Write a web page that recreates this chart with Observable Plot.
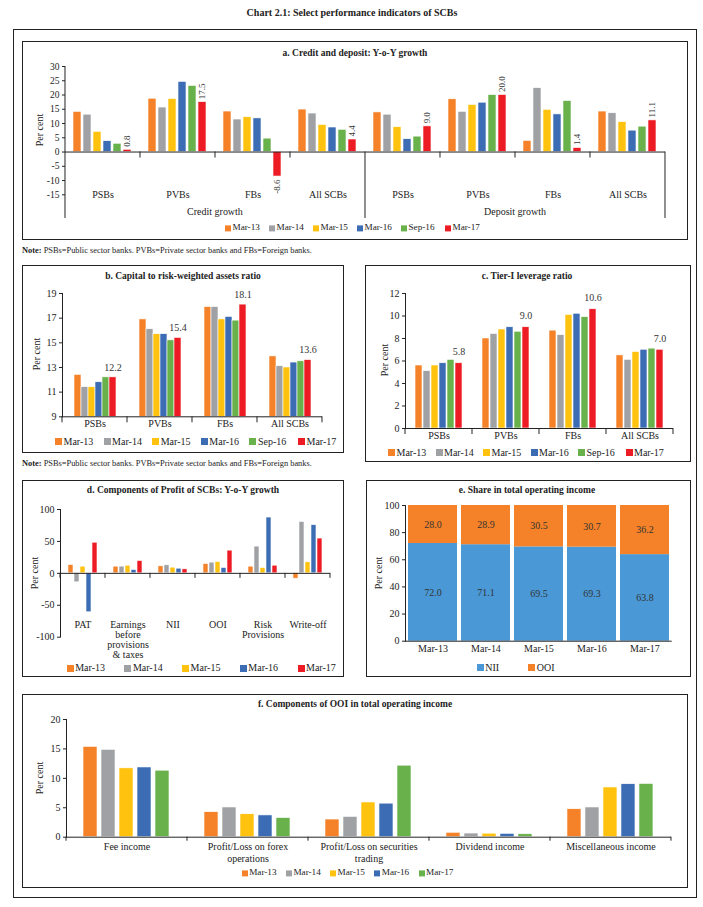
<!DOCTYPE html>
<html><head><meta charset="utf-8">
<script src="https://cdn.jsdelivr.net/npm/d3@7"></script>
<script src="https://cdn.jsdelivr.net/npm/@observablehq/plot@0.6"></script>
<style>
body{margin:0;background:#fff;}
#page{position:relative;width:703px;height:907px;font-family:"Liberation Serif","Times New Roman",serif;color:#222;overflow:hidden;background:#fff}
.box{position:absolute;border:1px solid #222;box-sizing:border-box}
.t{position:absolute;white-space:nowrap;transform:translate(-50%,-50%);line-height:1}
.lg{position:absolute;transform:translateY(-50%);display:flex;align-items:center;white-space:nowrap;line-height:1}
.note{position:absolute;white-space:nowrap;line-height:1;transform:translateY(-50%)}
svg{position:absolute;overflow:visible}
</style></head><body><div id="page"></div><script>
// ---------------- DATA ----------------
const bankGroups = ["PSBs", "PVBs", "FBs", "All SCBs"];
const periodsA = ["Mar-13", "Mar-14", "Mar-15", "Mar-16", "Sep-16", "Mar-17"];
const creditGrowth = [
  [14.1, 13.1, 7.1, 3.8, 2.9, 0.8],
  [18.7, 15.6, 18.6, 24.6, 23.2, 17.5],
  [14.2, 11.4, 12.2, 11.8, 4.7, -8.6],
  [14.9, 13.5, 9.5, 8.6, 7.8, 4.4]
];
const depositGrowth = [
  [13.9, 13.1, 8.7, 4.5, 5.4, 9.0],
  [18.5, 14.1, 16.5, 17.3, 20.0, 20.0],
  [3.9, 22.4, 14.8, 13.2, 17.9, 1.4],
  [14.2, 13.6, 10.5, 7.5, 8.9, 11.1]
];
const crar = [
  [12.4, 11.4, 11.4, 11.8, 12.2, 12.2],
  [16.9, 16.1, 15.7, 15.7, 15.2, 15.4],
  [17.9, 17.9, 16.9, 17.1, 16.8, 18.1],
  [13.9, 13.1, 13.0, 13.4, 13.5, 13.6]
];
const leverage = [
  [5.6, 5.1, 5.6, 5.8, 6.1, 5.8],
  [8.0, 8.4, 8.8, 9.0, 8.6, 9.0],
  [8.7, 8.3, 10.1, 10.2, 9.9, 10.6],
  [6.5, 6.1, 6.8, 7.0, 7.1, 7.0]
];
const periodsD = ["Mar-13", "Mar-14", "Mar-15", "Mar-16", "Mar-17"];
const profitItems = ["PAT", "Earnings\nbefore\nprovisions\n& taxes", "NII", "OOI", "Risk\nProvisions", "Write-off"];
const profitGrowth = [
  [13.1, -14.1, 10.5, -61.0, 48.0],
  [10.5, 10.5, 12.0, 5.2, 19.4],
  [11.0, 12.6, 8.9, 7.3, 6.3],
  [14.7, 16.8, 17.8, 8.4, 35.6],
  [10.5, 41.9, 8.4, 87.4, 12.0],
  [-8.4, 80.6, 17.3, 75.4, 54.5]
];
const shareYears = ["Mar-13", "Mar-14", "Mar-15", "Mar-16", "Mar-17"];
const shareTypes = ["NII", "OOI"];
const niiShare = [72.0, 71.1, 69.5, 69.3, 63.8];
const ooiShare = [28.0, 28.9, 30.5, 30.7, 36.2];
const ooiItems = ["Fee income", "Profit/Loss on forex\noperations", "Profit/Loss on securities\ntrading", "Dividend income", "Miscellaneous income"];
const ooiComponents = [
  [15.35, 14.85, 11.7, 11.85, 11.3],
  [4.25, 5.05, 3.9, 3.7, 3.25],
  [3.0, 3.45, 5.9, 5.7, 12.15],
  [0.75, 0.62, 0.6, 0.57, 0.5],
  [4.75, 5.05, 8.45, 9.0, 9.05]
];

// ---------------- STYLE ----------------
const FONT = '"Liberation Serif","Times New Roman",serif';
const INK = "#222";
const C = {orange: "#F58228", gray: "#A0A1A4", yellow: "#FFC20E", blue: "#3B6CB4", green: "#69B14B", red: "#ED1C24", sky: "#4A99D6"};
const colorsA = [C.orange, C.gray, C.yellow, C.blue, C.green, C.red];
const colorsD = [C.orange, C.gray, C.yellow, C.blue, C.red];
const colorsF = [C.orange, C.gray, C.yellow, C.blue, C.green];
const colorsE = [C.sky, C.orange];

const page = document.getElementById("page");
function box(l, t, r, b) {
  const d = document.createElement("div"); d.className = "box";
  Object.assign(d.style, {left: l + "px", top: t + "px", width: (r - l) + "px", height: (b - t) + "px"});
  page.appendChild(d);
}
function label(txt, cx, cy, size, bold = false, rotate = 0) {
  const d = document.createElement("div"); d.className = "t"; d.textContent = txt;
  d.style.left = cx + "px"; d.style.top = cy + "px"; d.style.fontSize = size + "px";
  if (bold) d.style.fontWeight = "bold";
  if (rotate) d.style.transform = `translate(-50%,-50%) rotate(${rotate}deg)`;
  page.appendChild(d);
}
function note(cy) {
  const d = document.createElement("div"); d.className = "note";
  d.innerHTML = "<b>Note:</b> PSBs=Public sector banks. PVBs=Private sector banks and FBs=Foreign banks.";
  d.style.left = "22px"; d.style.top = cy + "px"; d.style.fontSize = "8.4px";
  page.appendChild(d);
}
function legend(names, colors, x0, cy, step, size, sw) {
  names.forEach((n, i) => {
    const it = document.createElement("div"); it.className = "lg";
    it.style.left = (x0 + i * step) + "px"; it.style.top = cy + "px"; it.style.fontSize = size + "px";
    it.innerHTML = `<span style="display:inline-block;width:${sw}px;height:${sw}px;background:${colors[i]};margin-right:1.5px"></span>${n}`;
    page.appendChild(it);
  });
}
function chart(frame, opts, fontSize = 10) {
  const [fL, fT, fR, fB] = frame;
  const pad = {l: 50, t: 16, r: 14, b: 44};
  const svg = Plot.plot({
    width: fR - fL + pad.l + pad.r,
    height: fB - fT + pad.t + pad.b,
    marginLeft: pad.l, marginRight: pad.r, marginTop: pad.t, marginBottom: pad.b,
    style: {fontFamily: FONT, fontSize: fontSize + "px", color: INK, background: "transparent", overflow: "visible"},
    ...opts
  });
  svg.style.position = "absolute";
  svg.style.left = (fL - pad.l) + "px"; svg.style.top = (fT - pad.t) + "px";
  svg._T = fT - pad.t; svg._L = fL - pad.l;
  page.appendChild(svg);
  return svg;
}
function edges(svg, keys) {
  const fx = svg.scale("fx");
  const xs = keys.map(k => fx.apply(k));
  xs.push(xs[xs.length - 1] + fx.bandwidth);
  return xs;
}
function drawLines(svg, segs) {
  d3.select(svg).append("g").attr("stroke", INK).attr("stroke-width", 1)
    .selectAll("line").data(segs).join("line")
    .attr("x1", d => d[0]).attr("x2", d => d[0]).attr("y1", d => d[1]).attr("y2", d => d[2]);
}
const fmt = d => String(d);

// ---------------- FRAMES ----------------
box(13, 29, 697, 898);
label("Chart 2.1: Select performance indicators of SCBs", 352, 13, 10, true);

// ===== Panel a =====
box(22, 41, 688, 239.5);
label("a. Credit and deposit: Y-o-Y growth", 355, 54, 9.5, true);
const keysA = [], rowsA = [];
[["Credit growth", creditGrowth], ["Deposit growth", depositGrowth]].forEach(([sec, mat]) => {
  bankGroups.forEach((g, gi) => {
    const key = sec + "|" + g; keysA.push(key);
    periodsA.forEach((p, pi) => rowsA.push({key, sec, group: g, period: p, value: mat[gi][pi]}));
  });
});
const svgA = chart([63.3, 66, 666.7, 194.3], {
  fx: {domain: keysA, padding: 0, axis: null},
  x: {domain: periodsA, paddingInner: 0.17, paddingOuter: 0.75, axis: null},
  y: {domain: [-15, 30], ticks: d3.range(-15, 31, 5), tickSize: 3, tickPadding: 3, tickFormat: fmt, label: null},
  color: {domain: periodsA, range: colorsA},
  marks: [
    Plot.barY(rowsA, {fx: "key", x: "period", y: "value", fill: "period", stroke: "white", strokeWidth: 0.6}),
    Plot.ruleY([0], {stroke: INK}),
    Plot.text(rowsA.filter(d => d.period === "Mar-17" && d.value >= 0), {fx: "key", x: "period", y: "value", text: d => d.value.toFixed(1), rotate: -90, textAnchor: "start", dy: -3, fontSize: 9, fill: "#333"}),
    Plot.text(rowsA.filter(d => d.period === "Mar-17" && d.value < 0), {fx: "key", x: "period", y: "value", text: d => d.value.toFixed(1), rotate: -90, textAnchor: "end", dy: 3, fontSize: 9, fill: "#333"}),
    Plot.text(keysA, {fx: d => d, text: d => d.split("|")[1], frameAnchor: "bottom", dy: 3, fontSize: 10})
  ]
}, 9.5);
{
  const xs = edges(svgA, keysA);
  const ys = svgA.scale("y");
  const y0 = ys.apply(0), yTop = ys.apply(30), yBot = 218 - svgA._T;
  const segs = xs.map((x, i) => i === 0 ? [x, yTop, yBot] : (i === 4 || i === 8) ? [x, y0, yBot] : [x, y0, y0 + 6]);
  drawLines(svgA, segs);
  const secs = [["Credit growth", xs[0], xs[4]], ["Deposit growth", xs[4], xs[8]]];
  d3.select(svgA).append("g").attr("font-size", 10).attr("text-anchor", "middle").attr("fill", INK)
    .selectAll("text").data(secs).join("text")
    .attr("x", d => (d[1] + d[2]) / 2).attr("y", 211.7 - svgA._T).attr("dy", "0.32em").text(d => d[0]);
}
label("Per cent", 40, 130, 10, false, -90);
legend(periodsA, colorsA, 225, 228, 44, 9.2, 6);
note(251);

// ===== Panel b =====
box(22, 265, 344, 453);
label("b. Capital to risk-weighted assets ratio", 183, 277.3, 9.5, true);
const rowsB = [];
bankGroups.forEach((g, gi) => periodsA.forEach((p, pi) => rowsB.push({group: g, period: p, value: crar[gi][pi]})));
const domB = [9, 19];
const svgB = chart([60.7, 292.7, 321.7, 416], {
  fx: {domain: bankGroups, padding: 0, axis: null},
  x: {domain: periodsA, paddingInner: 0, paddingOuter: 1.4, axis: null},
  y: {domain: domB, ticks: d3.range(9, 20, 2), tickSize: 3, tickPadding: 3, tickFormat: fmt, label: null, line: true},
  color: {domain: periodsA, range: colorsA},
  marks: [
    Plot.barY(rowsB, {fx: "group", x: "period", y1: domB[0], y2: "value", fill: "period", stroke: "white", strokeWidth: 0.6}),
    Plot.ruleY([domB[0]], {stroke: INK}),
    Plot.text(rowsB.filter(d => d.period === "Mar-17"), {fx: "group", x: "period", y: "value", text: d => d.value.toFixed(1), dy: -10, fontSize: 10, fill: "#333"}),
    Plot.text(bankGroups, {fx: d => d, text: d => d, frameAnchor: "bottom", dy: 10, fontSize: 10})
  ]
});
{
  const xs = edges(svgB, bankGroups);
  const yb = svgB.scale("y").apply(domB[0]);
  drawLines(svgB, xs.map(x => [x, yb, yb + 6]));
}
label("Per cent", 37.3, 354.3, 10, false, -90);
legend(periodsA, colorsA, 55, 441.7, 48.6, 10, 7);
note(463.5);

// ===== Panel c =====
box(365, 265, 691, 462);
label("c. Tier-I leverage ratio", 527, 277.3, 9.5, true);
const rowsC = [];
bankGroups.forEach((g, gi) => periodsA.forEach((p, pi) => rowsC.push({group: g, period: p, value: leverage[gi][pi]})));
const svgC = chart([405, 292.7, 673.3, 427.7], {
  fx: {domain: bankGroups, padding: 0, axis: null},
  x: {domain: periodsA, paddingInner: 0.13, paddingOuter: 0.85, axis: null},
  y: {domain: [0, 12], ticks: d3.range(0, 13, 2), tickSize: 3, tickPadding: 3, tickFormat: fmt, label: null, line: true},
  color: {domain: periodsA, range: colorsA},
  marks: [
    Plot.barY(rowsC, {fx: "group", x: "period", y: "value", fill: "period", stroke: "white", strokeWidth: 0.6}),
    Plot.ruleY([0], {stroke: INK}),
    Plot.text(rowsC.filter(d => d.period === "Mar-17"), {fx: "group", x: "period", y: "value", text: d => d.value.toFixed(1), dy: -11, fontSize: 10, fill: "#333"}),
    Plot.text(bankGroups, {fx: d => d, text: d => d, frameAnchor: "bottom", dy: 10.6, fontSize: 10})
  ]
});
{
  const xs = edges(svgC, bankGroups);
  const yb = svgC.scale("y").apply(0);
  drawLines(svgC, xs.map(x => [x, yb, yb + 6]));
}
label("Per cent", 385, 360, 10, false, -90);
legend(periodsA, colorsA, 388, 452.7, 47.5, 10, 7);

// ===== Panel d =====
box(22, 480, 344, 677);
label("d. Components of Profit of SCBs: Y-o-Y growth", 183, 491, 9.5, true);
const rowsD = [];
profitItems.forEach((g, gi) => periodsD.forEach((p, pi) => rowsD.push({item: g, period: p, value: profitGrowth[gi][pi]})));
const svgD = chart([59.3, 509, 331.7, 636.7], {
  fx: {domain: profitItems, padding: 0, axis: null},
  x: {domain: periodsD, paddingInner: 0.12, paddingOuter: 0.88, axis: null},
  y: {domain: [-100, 100], ticks: [-100, -50, 0, 50, 100], tickSize: 3, tickPadding: 3, tickFormat: fmt, label: null, line: true},
  color: {domain: periodsD, range: colorsD},
  marks: [
    Plot.barY(rowsD, {fx: "item", x: "period", y: "value", fill: "period", stroke: "white", strokeWidth: 0.6}),
    Plot.ruleY([0], {stroke: INK}),
    Plot.text(profitItems, {fx: d => d, text: d => d, frameAnchor: "bottom", lineAnchor: "top", dy: -16, lineHeight: 1.0, fontSize: 10})
  ]
});
{
  const xs = edges(svgD, profitItems);
  const y0 = svgD.scale("y").apply(0);
  drawLines(svgD, xs.map(x => [x, y0, y0 + 5]));
}
label("Per cent", 35, 572.8, 10, false, -90);
legend(periodsD, colorsD, 66.7, 668.3, 57.7, 10, 7);

// ===== Panel e =====
box(366, 480, 691, 677);
label("e. Share in total operating income", 527, 491, 9.5, true);
const rowsE = [];
[niiShare, ooiShare].forEach((arr, ti) => shareYears.forEach((y, yi) => rowsE.push({year: y, type: shareTypes[ti], value: arr[yi]})));
const svgE = chart([405, 505, 671.7, 640.7], {
  x: {domain: shareYears, paddingInner: 0.07, paddingOuter: 0.035, axis: null},
  y: {domain: [0, 100], ticks: d3.range(0, 101, 20), tickSize: 3, tickPadding: 3, tickFormat: fmt, label: null, line: true},
  color: {domain: shareTypes, range: colorsE},
  marks: [
    Plot.barY(rowsE, {x: "year", y: "value", fill: "type", z: "type"}),
    Plot.ruleY([0], {stroke: INK}),
    Plot.text(rowsE, Plot.stackY({x: "year", y: "value", z: "type", text: d => d.value.toFixed(1), fontSize: 10, fill: "#333"})),
    Plot.text(shareYears, {x: d => d, text: d => d, frameAnchor: "bottom", dy: 11, fontSize: 10})
  ]
});
label("Per cent", 379, 572.8, 10, false, -90);
legend(shareTypes, colorsE, 476.7, 667.7, 51.6, 10, 7);

// ===== Panel f =====
box(22, 694, 688, 888);
label("f. Components of OOI in total operating income", 355, 705, 9.5, true);
const rowsF = [];
ooiItems.forEach((g, gi) => periodsD.forEach((p, pi) => rowsF.push({item: g, period: p, value: ooiComponents[gi][pi]})));
const svgF = chart([64.3, 719.3, 674, 837], {
  fx: {domain: ooiItems, padding: 0, axis: null},
  x: {domain: periodsD, paddingInner: 0.2, paddingOuter: 0.85, axis: null},
  y: {domain: [0, 20], ticks: d3.range(0, 21, 5), tickSize: 3, tickPadding: 3, tickFormat: fmt, label: null, line: true},
  color: {domain: periodsD, range: colorsF},
  marks: [
    Plot.barY(rowsF, {fx: "item", x: "period", y: "value", fill: "period", stroke: "white", strokeWidth: 0.6}),
    Plot.ruleY([0], {stroke: INK}),
    Plot.text(ooiItems, {fx: d => d, text: d => d, frameAnchor: "bottom", lineAnchor: "top", dy: 5, lineHeight: 1.13, fontSize: 10})
  ]
});
{
  const xs = edges(svgF, ooiItems);
  const y0 = svgF.scale("y").apply(0);
  drawLines(svgF, xs.map(x => [x, y0, y0 + 4]));
}
label("Per cent", 40, 778, 10, false, -90);
legend(periodsD, colorsF, 241.7, 873.3, 44.2, 9.2, 6);
</script></body></html>
